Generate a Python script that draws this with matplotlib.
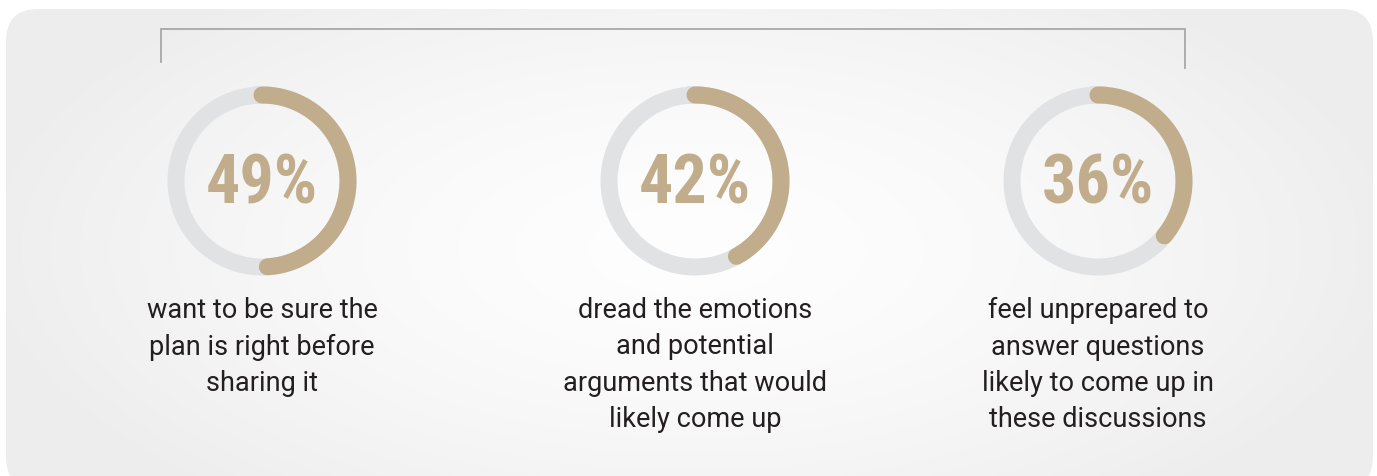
import numpy as np
import matplotlib
matplotlib.use("Agg")
import matplotlib.pyplot as plt
from matplotlib.patches import FancyBboxPatch

# ---- data ----
percent_values = [49, 42, 36]
percent_labels = ["49%", "42%", "36%"]
descriptions = [
    "want to be sure the\nplan is right before\nsharing it",
    "dread the emotions\nand potential\narguments that would\nlikely come up",
    "feel unprepared to\nanswer questions\nlikely to come up in\nthese discussions",
]

W, H = 1377, 477
fig = plt.figure(figsize=(W / 100, H / 100), dpi=100)
ax = fig.add_axes([0, 0, 1, 1])
ax.set_xlim(0, W)
ax.set_ylim(H, 0)
ax.axis("off")
fig.patch.set_facecolor("white")

# background panel with soft radial gradient
panel = FancyBboxPatch((6, 10), 1367, 480, boxstyle="round,pad=0,rounding_size=32",
                       facecolor="none", edgecolor="none")
ax.add_patch(panel)
yy, xx = np.mgrid[0:H, 0:W]
d = np.sqrt(((xx - 690) / 720.0) ** 2 + ((yy - 250) / 330.0) ** 2)
d = np.clip(d, 0, 1)
val = 0.995 - 0.065 * d ** 1.6
img = np.dstack([val, val, val])
im = ax.imshow(img, extent=(0, W, H, 0), zorder=0, interpolation="bilinear")
im.set_clip_path(panel)

# bracket
ax.plot([161, 161, 1185, 1185], [63, 30, 30, 69], color="#a8a8a8", lw=1.3,
        solid_joinstyle="miter", zorder=2)

centers_x = [262, 695, 1098]
cy = 182
r = 86
ring_lw = 17 * 72 / 100

gold = "#c1ad8b"
grey = "#e1e2e4"
num_font = ["Roboto Condensed", "Roboto", "DejaVu Sans"]
txt_font = ["Roboto", "DejaVu Sans"]

for cx, v, lab, desc in zip(centers_x, percent_values, percent_labels, descriptions):
    t = np.linspace(0, 2 * np.pi, 400)
    ax.plot(cx + r * np.sin(t), cy - r * np.cos(t), color=grey, lw=ring_lw, zorder=3)
    t2 = np.linspace(0, 2 * np.pi * v / 100.0, 300)
    ax.plot(cx + r * np.sin(t2), cy - r * np.cos(t2), color=gold, lw=ring_lw,
            solid_capstyle="round", zorder=4)
    ax.text(cx, cy + 3, lab, ha="center", va="center", color=gold, fontsize=49,
            fontweight="bold", family=num_font, zorder=5)
    ax.text(cx, 297, desc, ha="center", va="top", color="#231f20", fontsize=19.5,
            family=txt_font, linespacing=1.45, zorder=5)

fig.savefig("out.png", dpi=100)
